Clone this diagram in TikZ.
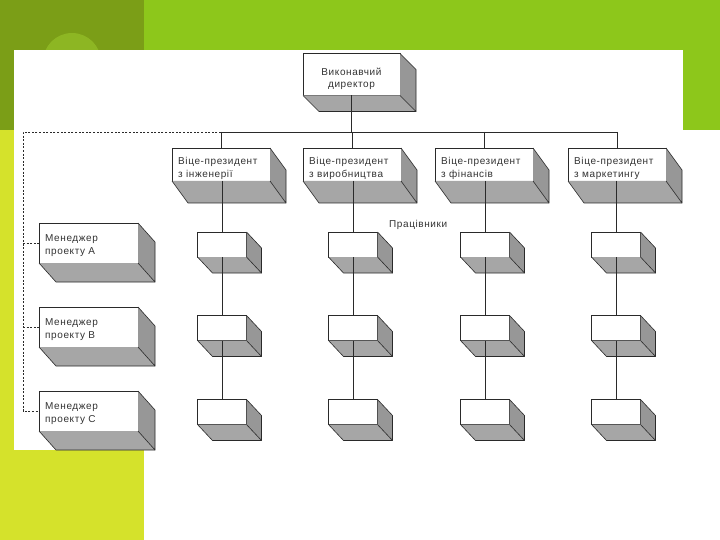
\documentclass[tikz,border=0pt]{standalone}
\usepackage{fontspec}
\setmainfont{Liberation Sans}
\newfontfamily\diafont[LetterSpace=6]{Liberation Sans}
\definecolor{dkgreen}{HTML}{7B9E17}
\definecolor{ltgreen}{HTML}{8DC71B}
\definecolor{circgreen}{HTML}{8DB623}
\definecolor{yellowg}{HTML}{D5E22B}
\definecolor{botface}{HTML}{A6A6A6}
\definecolor{sideface}{HTML}{979797}
\definecolor{inkc}{HTML}{2A2A2A}
\definecolor{txtc}{HTML}{333333}
\tikzset{
  front/.style={draw=inkc, line width=0.6pt, fill=white, inner sep=0pt, outer sep=0pt},
  ceobox/.style={front, minimum width=97pt, minimum height=42pt},
  vpbox/.style={front, minimum width=98pt, minimum height=33pt},
  mgrbox/.style={front, minimum width=99pt, minimum height=40pt},
  wbox/.style={front, minimum width=49pt, minimum height=25pt},
  lbl/.style={inner sep=0pt, text=txtc, font=\diafont\fontsize{10}{13}\selectfont, align=left, anchor=north west},
  clbl/.style={lbl, align=center, anchor=north, font=\diafont\fontsize{10}{12}\selectfont},
  link/.style={draw=inkc, line width=0.7pt},
  dlink/.style={draw=inkc, line width=0.6pt, dash pattern=on 2pt off 1.6pt},
  face/.style={draw=inkc, line width=0.6pt, line join=round}
}
\newcommand\depthfaces[3]{%
  \fill[botface] (#1.south west) -- (#1.south east) -- ([shift={(#2,#3)}]#1.south east) -- ([shift={(#2,#3)}]#1.south west) -- cycle;
  \draw[face] (#1.south west) -- ([shift={(#2,#3)}]#1.south west) -- ([shift={(#2,#3)}]#1.south east);
  \fill[sideface] (#1.north east) -- ([shift={(#2,#3)}]#1.north east) -- ([shift={(#2,#3)}]#1.south east) -- (#1.south east) -- cycle;
  \draw[face] (#1.north east) -- ([shift={(#2,#3)}]#1.north east) -- ([shift={(#2,#3)}]#1.south east) -- (#1.south east);
}
\begin{document}
\begin{tikzpicture}[x=1pt,y=-1pt]
\useasboundingbox (0,0) rectangle (720,540);
% slide background
\fill[white] (0,0) rectangle (720,540);
\fill[dkgreen] (0,0) rectangle (144,130);
\fill[circgreen] (72,62) circle (29);
\fill[ltgreen] (144,0) rectangle (720,130);
\fill[yellowg] (0,130) rectangle (144,540);
\fill[white] (14,50) rectangle (683,450);

% CEO
\node[ceobox] (ceo) at (351.5,74.5) {};
% vice presidents
\node[vpbox] (vp1) at (221,164.5) {};
\node[vpbox] (vp2) at (352,164.5) {};
\node[vpbox] (vp3) at (484,164.5) {};
\node[vpbox] (vp4) at (617,164.5) {};
% managers
\node[mgrbox] (ma) at (88.5,243) {};
\node[mgrbox] (mb) at (88.5,327) {};
\node[mgrbox] (mc) at (88.5,411) {};
% workers
\foreach \c/\x in {1/222,2/353,3/485,4/616}{
  \node[wbox] (w\c a) at (\x,244.5) {};
  \node[wbox] (w\c b) at (\x,328) {};
  \node[wbox] (w\c c) at (\x,412) {};
}
% texts
\node[clbl] (ceot) at ([shift={(0,14)}]ceo.north) {Виконавчий\\директор};
\node[lbl] (vp1t) at ([shift={(6,9.5)}]vp1.north west) {Віце-президент\\з інженерії};
\node[lbl] (vp2t) at ([shift={(6,9.5)}]vp2.north west) {Віце-президент\\з виробництва};
\node[lbl] (vp3t) at ([shift={(6,9.5)}]vp3.north west) {Віце-президент\\з фінансів};
\node[lbl] (vp4t) at ([shift={(6,9.5)}]vp4.north west) {Віце-президент\\з маркетингу};
\node[lbl] (mat) at ([shift={(6,11)}]ma.north west) {Менеджер\\проекту А};
\node[lbl] (mbt) at ([shift={(6,11)}]mb.north west) {Менеджер\\проекту В};
\node[lbl] (mct) at ([shift={(6,11)}]mc.north west) {Менеджер\\проекту С};
\node[lbl, anchor=west] (lab) at (389,225) {Працівники};

% depth faces
\depthfaces{ceo}{16}{16}
\foreach \n in {vp1,vp2,vp3,vp4}{\depthfaces{\n}{16}{22}}
\foreach \n in {ma,mb,mc}{\depthfaces{\n}{17}{19}}
\foreach \c in {1,2,3,4}{\foreach \r in {a,b,c}{\depthfaces{w\c\r}{15}{16}}}

% bus
\coordinate (busL) at (vp1.north |- 0,132);
\coordinate (busR) at (vp4.north |- 0,132);
\coordinate (corner) at (23,132);
\draw[link] (busL) -- (busR);
\draw[link] (ceo.south) -- (ceo.south |- busL);
\foreach \n in {vp1,vp2,vp3,vp4}{\draw[link] (\n.north |- busL) -- (\n.north);}
% columns
\foreach \c in {1,2,3,4}{
  \draw[link] (vp\c.south -| w\c a.north) -- (w\c a.north);
  \draw[link] (w\c a.south) -- (w\c b.north);
  \draw[link] (w\c b.south) -- (w\c c.north);
}
% dashed project links
\draw[dlink] (busL) -- (corner) |- (mc.west);
\draw[dlink] (corner |- ma.west) -- (ma.west);
\draw[dlink] (corner |- mb.west) -- (mb.west);
\end{tikzpicture}
\end{document}
